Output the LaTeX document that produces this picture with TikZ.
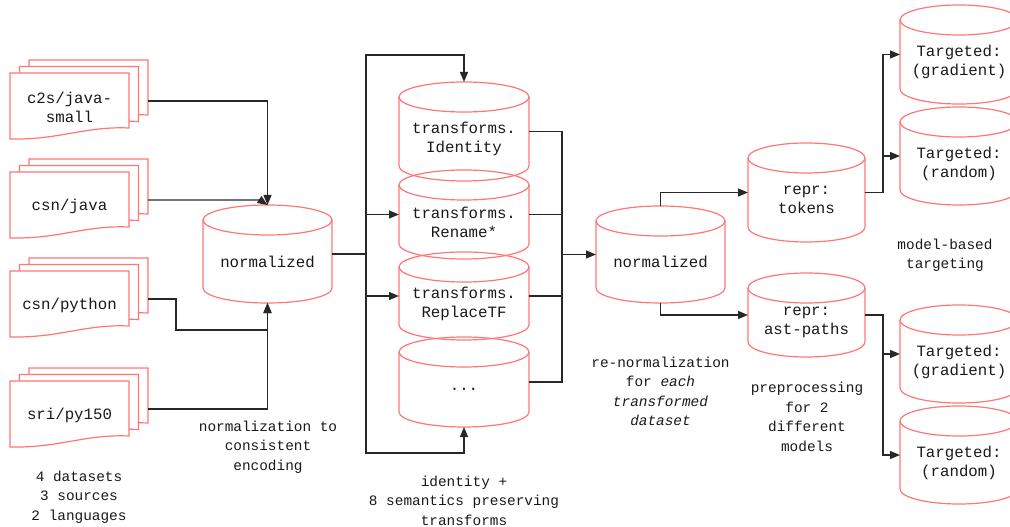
\documentclass[tikz,border=0pt]{standalone}
\usepackage{fontspec}
\setmonofont{Liberation Mono}
\usetikzlibrary{arrows.meta}

\tikzset{
  canline/.style={color={rgb, 255:red, 255; green, 118; blue, 118 }, line width=0.9pt},
  docline/.style={canline, fill=white},
  canbox/.style={inner sep=0pt, outer sep=0pt},
  txt/.style={font=\ttfamily\fontsize{11.8}{14.3}\selectfont, align=center, inner sep=0pt, text=black!90},
  note/.style={txt, font=\ttfamily\fontsize{10.8}{14.6}\selectfont},
  link/.style={color={rgb, 255:red, 40; green, 40; blue, 40 }, line width=1pt, -{Triangle[length=7.5pt, width=6pt]}},
  wire/.style={link, -},
}

% can: name, left, top, width, height, text
\newcommand{\can}[6]{%
  \node[canbox, minimum width=#4*0.75pt, minimum height=#5*0.75pt] (#1) at (#2+#4/2, #3+#5/2) {};
  \node[txt] (#1-txt) at (#2+#4/2, #3+7.5+#5/2) {#6};
  \draw[canline] (#2+#4/2, #3+15) ellipse [x radius=#4/2, y radius=15];
  \draw[canline] (#2, #3+15) -- (#2, #3+#5-15) arc [start angle=180, end angle=0, x radius=#4/2, y radius=15] -- (#2+#4, #3+15);
}

% stack of three documents: name, left, top, text
\newcommand{\docs}[4]{%
  \foreach \dx/\dy in {19/-13, 9.5/-6.5, 0/0}
    \draw[docline] (#2+\dx, #3+\dy) -- ++(119,0) -- ++(0,55) .. controls (#2+\dx+75, #3+\dy+53) and (#2+\dx+50, #3+\dy+67) .. (#2+\dx, #3+\dy+66) -- cycle;
  \node[canbox, minimum width=119*0.75pt, minimum height=66*0.75pt] (#1) at (#2+59.5, #3+33) {};
  \node[txt] (#1-txt) at (#2+59.5, #3+34) {#4};
  \coordinate (#1-out) at (#2+138, #3+28);
}

\begin{document}
\begin{tikzpicture}[x=0.75pt,y=0.75pt,yscale=-1,xscale=1]
\useasboundingbox (0,0) rectangle (1010,527);
\clip (0,0) rectangle (1010,527);

%Shape: Document stacks
\docs{c2s}{10}{73}{c2s/java-\\small}
\docs{csnjava}{10}{172}{csn/java}
\docs{csnpy}{10}{271}{csn/python}
\docs{sri}{10}{381}{sri/py150}

%Shape: Can
\can{norm}{203}{205}{129}{98}{normalized}
\can{ident}{399}{82}{130}{99}{transforms.\\Identity}
\can{rename}{399}{170}{130}{89}{transforms.\\Rename*}
\can{replace}{399}{252}{130}{88}{transforms.\\ReplaceTF}
\can{etc}{399}{337}{130}{90}{...}
\can{renorm}{596}{206}{129}{97}{normalized}
\can{tokens}{748}{143}{117}{99}{repr:\\tokens}
\can{astp}{748}{273}{117}{84}{repr:\\ast-paths}
\can{tgradA}{900}{5}{118}{99}{Targeted:\\(gradient)}
\can{trandA}{900}{107}{118}{98}{Targeted:\\(random)}
\can{tgradB}{900}{305}{118}{98}{Targeted:\\(gradient)}
\can{trandB}{900}{406}{118}{98}{Targeted:\\(random)}

%Connectors into normalized
\draw[link] (c2s-out) -| (norm.north);
\draw[link] (csnjava-out) -- ++(112,0) -- (norm.north);
\draw[link] (csnpy-out) -- ++(28,0) -- ++(0,31) -| (norm.south);
\draw[link] (sri-out) -| (norm.south);

%Connectors to transforms
\coordinate (busL) at (366,254);
\draw[wire] (norm.east) -- (busL);
\draw[link] (busL) -- ++(0,-199) -| (ident.north);
\draw[link] (busL) |- (rename.west);
\draw[link] (busL) |- (replace.west);
\draw[link] (busL) -- ++(0,199) -| (etc.south);

%Connectors to re-normalization
\coordinate (busR) at (562,254.5);
\draw[wire] (ident.east) -| (busR);
\draw[wire] (rename.east) -| (busR);
\draw[wire] (replace.east) -| (busR);
\draw[wire] (etc.east) -| (busR);
\draw[link] (busR) -- (renorm.west);

%Connectors to representations and targeting
\draw[link] (renorm.north) |- (tokens.west);
\draw[link] (renorm.south) |- (astp.west);
\draw[link] (tokens.east) -- ++(18,0) |- (tgradA.west);
\draw[link] (tokens.east) -- ++(18,0) |- (trandA.west);
\draw[link] (astp.east) -- ++(18,0) |- (tgradB.west);
\draw[link] (astp.east) -- ++(18,0) |- (trandB.west);

% Text Node
\node[note] (datasets) at (79,497) {4 datasets\\3 sources\\2 languages};
% Text Node
\node[note] (normnote) at (268,447) {normalization to\\consistent\\encoding};
% Text Node
\node[note] (transnote) at (464,500.5) {identity +\\8 semantics preserving\\transforms};
% Text Node
\node[note] (renormnote) at (660.5,391.5) {re-normalization\\for \textit{each}\\\textit{transformed}\\\textit{dataset}};
% Text Node
\node[note] (prepnote) at (807,417) {preprocessing\\for 2\\different\\models};
% Text Node
\node[note] (targetnote) at (945,255.5) {model-based\\targeting};

\end{tikzpicture}
\end{document}
